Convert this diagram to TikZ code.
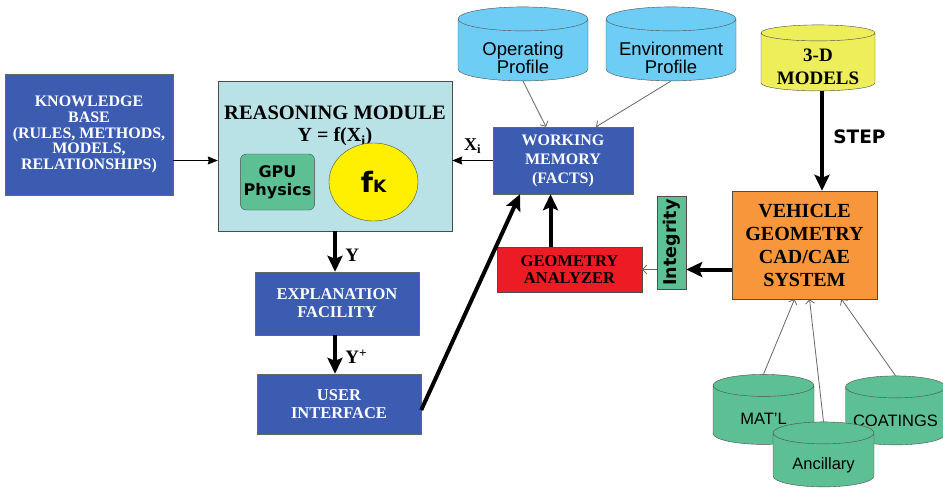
\documentclass[tikz,border=0pt]{standalone}
\usepackage{fontspec}
\setmainfont{Liberation Serif}
\setsansfont{Liberation Sans}
\newfontfamily\widesans{DejaVu Sans}
\usetikzlibrary{arrows.meta,shapes.geometric}

\begin{document}
\begin{tikzpicture}[x=1pt, y=-1pt]

\definecolor{boxblue}{RGB}{60, 92, 178}
\definecolor{reasoncyan}{RGB}{184, 226, 230}
\definecolor{dbgreen}{RGB}{92, 192, 148}
\definecolor{fkyellow}{RGB}{255, 240, 0}
\definecolor{modelyellow}{RGB}{238, 238, 90}
\definecolor{profilecyan}{RGB}{110, 205, 245}
\definecolor{cadorange}{RGB}{247, 150, 58}
\definecolor{analyzerred}{RGB}{237, 28, 36}

\useasboundingbox (0,0) rectangle (943,491);

\tikzset{
    blue block/.style={
        draw=black!60, fill=boxblue, rectangle,
        text=white, align=center,
        font=\bfseries\fontsize{16.5}{18}\selectfont
    },
    plain block/.style={
        draw=black!70, fill=#1, rectangle,
        text=black, align=center
    },
    db/.style={
        cylinder, shape border rotate=90, aspect=0.24, text width=100pt,
        draw=black!70, fill=#1, inner sep=0pt
    },
    db text/.style={
        align=center, font=\fontsize{#1}{18}\selectfont\sffamily
    },
    big arrow/.style={
        line width=4pt, -{Stealth[length=16pt, width=15pt, inset=3pt]}
    },
    small arrow/.style={
        line width=1pt, -{Stealth[length=10pt, width=8pt, inset=1pt]}
    },
    feed/.style={
        draw=black!60, line width=0.8pt, -{Straight Barb[length=4pt, width=9pt]}
    },
    tag/.style={
        font=\bfseries\fontsize{19}{19}\selectfont
    }
}

% KNOWLEDGE SIDE
\node[blue block, minimum width=168, minimum height=121,
      font=\bfseries\fontsize{16}{15.7}\selectfont] (KB) at (89,134.5)
    {KNOWLEDGE\\BASE\\(RULES, METHODS,\\MODELS,\\RELATIONSHIPS)};

\node[plain block=reasoncyan, minimum width=234, minimum height=150] (RM) at (335,156) {};
\node[font=\bfseries\fontsize{20.5}{20}\selectfont] (RMtitle) at (335,113) {REASONING MODULE};
\node[font=\bfseries\fontsize{20}{20}\selectfont] (RMeq) at (335,137) {Y = f(X\textsubscript{i})};
\node[plain block=dbgreen, rounded corners=6pt, minimum width=73, minimum height=56,
      font=\widesans\bfseries\fontsize{16}{18}\selectfont] (GPU) at (277.5,182) {GPU\\Physics};
\node[ellipse, draw=black!70, fill=fkyellow, minimum width=89, minimum height=78,
      inner sep=0pt, font=\widesans\bfseries] (fK) at (373.5,182)
    {{\fontsize{28}{28}\selectfont f}{\fontsize{17}{17}\selectfont K}};

\node[blue block, minimum width=164, minimum height=63] (EF) at (337,303.5) {EXPLANATION\\FACILITY};
\node[blue block, minimum width=164, minimum height=60] (UI) at (339,404) {USER\\INTERFACE};

% WORKING MEMORY AND PROFILES
\node[blue block, minimum width=140, minimum height=67,
      font=\bfseries\fontsize{16}{19}\selectfont] (WM) at (563,160.5) {WORKING\\MEMORY\\(FACTS)};
\node[db=profilecyan, minimum width=130, minimum height=74] (OP) at (523,50) {};
\node[db text=18.5] (OPtext) at ([yshift=-8pt]OP.center) {Operating\\Profile};
\node[db=profilecyan, minimum width=130, minimum height=74] (EP) at (671,50) {};
\node[db text=18.5] (EPtext) at ([yshift=-8pt]EP.center) {Environment\\Profile};

\node[plain block=analyzerred, minimum width=145, minimum height=45,
      font=\bfseries\fontsize{16.5}{17}\selectfont] (GA) at (569.5,269.5) {GEOMETRY\\ANALYZER};
\node[plain block=dbgreen, rotate=90, minimum width=93, minimum height=29, inner sep=0pt,
      font=\widesans\bfseries\fontsize{17.5}{17}\selectfont] (INT) at (671.5,242.5) {Integrity};

% CAD SIDE
\node[db=modelyellow, aspect=0.16, minimum width=114, minimum height=66] (MOD) at (818,62) {};
\node[align=center, font=\bfseries\fontsize{19}{23}\selectfont] (MODtext)
    at ([yshift=-4.5pt]MOD.center) {3-D\\MODELS};
\node[plain block=cadorange, minimum width=145, minimum height=108,
      font=\bfseries\fontsize{20}{23}\selectfont] (VGS) at (804.5,245) {VEHICLE\\GEOMETRY\\CAD/CAE\\SYSTEM};

\node[db=dbgreen, aspect=0.22, minimum width=101, minimum height=70] (MATL) at (763.5,415) {};
\node[db text=16.5] (MATLtext) at ([yshift=-4pt]MATL.center) {MAT'L};
\node[db=dbgreen, aspect=0.22, minimum width=95, minimum height=69] (COAT) at (895.5,416) {};
\node[db text=16.5] (COATtext) at ([yshift=-5pt]COAT.center) {COATINGS};
\node[db=dbgreen, aspect=0.22, minimum width=101, minimum height=65] (ANC) at (823.5,460) {};
\node[db text=16.5] (ANCtext) at ([yshift=-5pt]ANC.center) {Ancillary};

% --- CONNECTIONS ---
\draw[small arrow] (KB.east |- WM) -- (RM.west |- WM);
\draw[small arrow] (WM.west) -- (RM.east |- WM)
    node[midway, above=3pt, font=\bfseries\fontsize{18}{18}\selectfont] (XI) {X\textsubscript{i}};

\draw[big arrow] (RM.south) -- (RM.south |- EF.north)
    node[tag, midway, right=5pt, yshift=-4pt] (YL) {Y};
\draw[big arrow] (EF.south -| RM.south) -- (RM.south |- UI.north)
    node[tag, midway, right=5pt, yshift=-2pt] (YPL) {Y\textsuperscript{+}};
\draw[big arrow] ([yshift=-6pt]UI.east) -- ([xshift=-43pt]WM.south);
\draw[big arrow] ([xshift=-19pt]GA.north) -- ([xshift=-19pt]GA.north |- WM.south);

\draw[feed] (OP.south) -- ([xshift=-17pt]WM.north);
\draw[feed] (EP.south) -- ([xshift=33pt]WM.north);

\draw[big arrow] ([xshift=4pt]MOD.south) -- ([xshift=4pt]MOD.south |- VGS.north)
    node[midway, right=6pt, yshift=4pt, font=\widesans\bfseries\fontsize{18.5}{18}\selectfont] (STEP) {STEP};
\draw[big arrow] (VGS.west |- GA) -- (INT.south |- GA);
\draw[feed] (INT.north |- GA) -- (GA.east);

\draw[feed] (MATL.north) -- ([xshift=-10pt]VGS.south);
\draw[feed] (ANC.north) -- ([xshift=5pt]VGS.south);
\draw[feed] (COAT.north) -- ([xshift=37pt]VGS.south);

\end{tikzpicture}
\end{document}
